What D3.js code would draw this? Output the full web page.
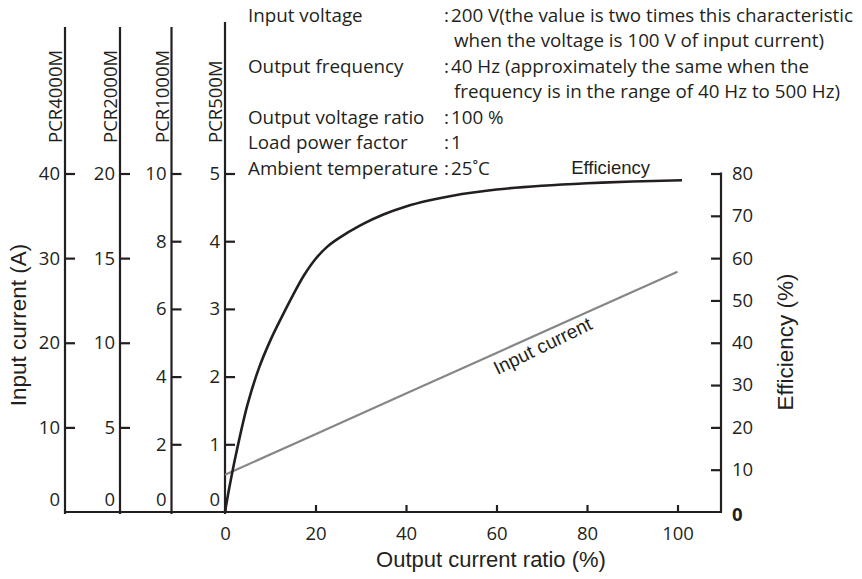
<!DOCTYPE html>
<html>
<head>
<meta charset="utf-8">
<script src="https://cdn.jsdelivr.net/npm/d3@7"></script>
<style>
  html, body { margin: 0; padding: 0; background: #ffffff; }
  svg { display: block; }
</style>
</head>
<body>
<svg id="chart" width="862" height="579"></svg>
<script>
// ---------------- data ----------------
const outputRatioTicks = [0, 20, 40, 60, 80, 100];
const models = ["PCR4000M", "PCR2000M", "PCR1000M", "PCR500M"];
const modelMax = [40, 20, 10, 5];
const pcr4000Ticks = [0, 10, 20, 30, 40];
const pcr2000Ticks = [0, 5, 10, 15, 20];
const pcr1000Ticks = [0, 2, 4, 6, 8, 10];
const pcr500Ticks = [0, 1, 2, 3, 4, 5];
const efficiencyTicks = [0, 10, 20, 30, 40, 50, 60, 70, 80];

// Efficiency curve (output current ratio %, efficiency %)
const effRatio = [0, 1, 2.5, 5, 7.5, 10, 12.5, 15, 17.5, 20, 22.5, 25, 30, 35, 40, 45, 50, 60, 70, 80, 90, 101];
const effValue = [0, 6, 14, 25.5, 34, 40.5, 46, 51.2, 56, 59.8, 62.6, 64.6, 67.8, 70.3, 72.2, 73.6, 74.7, 76.2, 77.1, 77.7, 78.1, 78.4];

// Input current (in PCR500M amperes)
const inRatio = [0, 20, 40, 60, 80, 100];
const inCurrent500 = [0.55, 1.15, 1.75, 2.35, 2.95, 3.55];

// Measurement conditions
const condLabels = ["Input voltage", "", "Output frequency", "", "Output voltage ratio", "Load power factor", "Ambient temperature"];
const condValues = [
  "200 V(the value is two times this characteristic",
  "when the voltage is 100 V of input current)",
  "40 Hz (approximately the same when the",
  "frequency is in the range of 40 Hz to 500 Hz)",
  "100 %",
  "1",
  "25˚C"
];

// ---------------- layout ----------------
const ink = "#231f20";
const grey = "#868686";
const tickFont = "'Open Sans', 'Noto Sans', sans-serif";
const titleFont = "'Liberation Sans', Arial, sans-serif";
const y0 = 512, yTop = 173.5;
const axisX = [65, 120, 171.5, 225];
const axisTop = [27, 27, 27, 22];
const rightX = 721;

const svg = d3.select("#chart");

const x = d3.scaleLinear().domain([0, 100]).range([225, 677.5]);
const yModel = modelMax.map(m => d3.scaleLinear().domain([0, m]).range([y0, yTop]));
const y500 = yModel[3];
const yEff = d3.scaleLinear().domain([0, 80]).range([y0, yTop]);
const tickSets = [pcr4000Ticks, pcr2000Ticks, pcr1000Ticks, pcr500Ticks];

// ---------------- left axes ----------------
models.forEach((name, i) => {
  const g = svg.append("g").attr("transform", `translate(${axisX[i]},0)`);
  const ax = d3.axisLeft(yModel[i]).tickValues(tickSets[i])
    .tickSizeInner(-10).tickSizeOuter(0).tickPadding(5)
    .tickFormat(d3.format("d"));
  g.call(ax);
  g.select(".domain").remove();
  g.selectAll(".tick line").attr("stroke", ink).attr("stroke-width", 2.2);
  g.selectAll(".tick text").attr("fill", ink)
    .style("font-family", tickFont).style("font-size", "18.5px");
  g.selectAll(".tick").filter(d => d === 0).each(function () {
    d3.select(this).select("line").remove();
    d3.select(this).select("text").attr("y", -12);
  });
  g.append("line").attr("x1", 0).attr("x2", 0)
    .attr("y1", axisTop[i]).attr("y2", y0 + 2)
    .attr("stroke", ink).attr("stroke-width", 2.2);
  svg.append("text")
    .attr("transform", `translate(${axisX[i] - 3},143) rotate(-90)`)
    .attr("text-anchor", "start")
    .attr("fill", ink)
    .style("font-family", tickFont).style("font-size", "18.5px")
    .text(name);
});

// ---------------- x axis ----------------
const gx = svg.append("g").attr("transform", `translate(0,${y0})`);
gx.call(d3.axisBottom(x).tickValues(outputRatioTicks)
  .tickSizeInner(-7).tickSizeOuter(0).tickPadding(15).tickFormat(d3.format("d")));
gx.select(".domain").remove();
gx.selectAll(".tick line").attr("stroke", ink).attr("stroke-width", 2.2);
gx.selectAll(".tick text").attr("fill", ink)
  .style("font-family", tickFont).style("font-size", "18.5px");
gx.append("line").attr("x1", axisX[0] - 1).attr("x2", rightX + 1)
  .attr("y1", 0).attr("y2", 0).attr("stroke", ink).attr("stroke-width", 2.2);

// ---------------- right axis ----------------
const gr = svg.append("g").attr("transform", `translate(${rightX},0)`);
gr.call(d3.axisRight(yEff).tickValues(efficiencyTicks)
  .tickSizeInner(-10).tickSizeOuter(0).tickPadding(11).tickFormat(d3.format("d")));
gr.select(".domain").remove();
gr.selectAll(".tick line").attr("stroke", ink).attr("stroke-width", 2.2);
gr.selectAll(".tick text").attr("fill", ink)
  .style("font-family", tickFont).style("font-size", "18.5px");
gr.selectAll(".tick").filter(d => d === 0).each(function () {
  d3.select(this).select("line").remove();
  d3.select(this).select("text").attr("y", 3).style("font-weight", "bold");
});
gr.append("line").attr("x1", 0).attr("x2", 0)
  .attr("y1", yEff(80) - 1).attr("y2", y0 + 1)
  .attr("stroke", ink).attr("stroke-width", 2.2);

// ---------------- series ----------------
const inData = inRatio.map((r, i) => [r, inCurrent500[i]]);
svg.append("path")
  .attr("d", d3.line().x(d => x(d[0])).y(d => y500(d[1]))(inData))
  .attr("fill", "none").attr("stroke", grey).attr("stroke-width", 2.2);

const effData = effRatio.map((r, i) => [r, effValue[i]]);
svg.append("path")
  .attr("d", d3.line().curve(d3.curveCatmullRom.alpha(0.5)).x(d => x(d[0])).y(d => yEff(d[1]))(effData))
  .attr("fill", "none").attr("stroke", ink).attr("stroke-width", 2.6);

// series labels
svg.append("text")
  .attr("x", x(76.5)).attr("y", yEff(80))
  .attr("fill", ink)
  .style("font-family", titleFont).style("font-size", "18.5px")
  .text("Efficiency");

const lx = x(69), ly = y500(0.55 + 3.0 * 0.69);
svg.append("text")
  .attr("transform", `translate(${lx},${ly}) rotate(-26)`)
  .attr("text-anchor", "middle").attr("dy", 19)
  .attr("fill", ink)
  .style("font-family", titleFont).style("font-size", "19px")
  .text("Input current");

// ---------------- axis titles ----------------
svg.append("text")
  .attr("transform", "translate(25.5,325) rotate(-90)")
  .attr("text-anchor", "middle").attr("fill", ink)
  .style("font-family", titleFont).style("font-size", "22.5px")
  .text("Input current (A)");
svg.append("text")
  .attr("transform", "translate(793,342) rotate(-90)")
  .attr("text-anchor", "middle").attr("fill", ink)
  .style("font-family", titleFont).style("font-size", "22.5px")
  .text("Efficiency (%)");
svg.append("text")
  .attr("x", 491).attr("y", 567)
  .attr("text-anchor", "middle").attr("fill", ink)
  .style("font-family", titleFont).style("font-size", "22px")
  .text("Output current ratio (%)");

// ---------------- conditions block ----------------
const cond = svg.append("g")
  .style("font-family", tickFont).style("font-size", "18.8px").attr("fill", ink);
condLabels.forEach((lab, i) => {
  const by = 21.7 + i * 25.55;
  if (lab) {
    cond.append("text").attr("x", 248).attr("y", by).text(lab);
    cond.append("text").attr("x", 444).attr("y", by).text(":");
    cond.append("text").attr("x", 451).attr("y", by).text(condValues[i]);
  } else {
    cond.append("text").attr("x", 454).attr("y", by).text(condValues[i]);
  }
});
</script>
</body>
</html>
